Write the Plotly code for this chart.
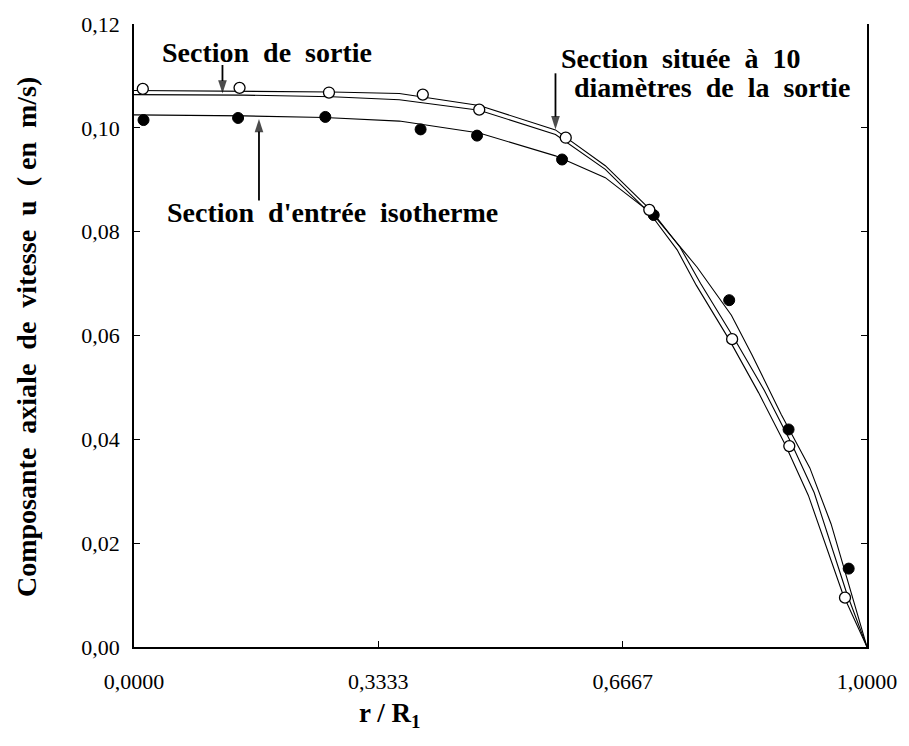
import plotly.graph_objects as go

# --- data ---
# measured points
r_entree = [0.013, 0.142, 0.261, 0.391, 0.468, 0.584, 0.709, 0.812, 0.893, 0.975]
u_entree = [0.1015, 0.1019, 0.1021, 0.0997, 0.0985, 0.0939, 0.0832, 0.0668, 0.0419, 0.0151]

r_sortie = [0.012, 0.144, 0.266, 0.394, 0.471, 0.589, 0.703, 0.816, 0.894, 0.970]
u_sortie = [0.1075, 0.1077, 0.1068, 0.1064, 0.1035, 0.0981, 0.0842, 0.0593, 0.0387, 0.0095]

# fitted curves
r_fit_entree = [0.0, 0.15, 0.26, 0.362, 0.471, 0.575, 0.643, 0.709, 0.768, 0.815, 0.843, 0.883, 0.922, 0.951, 1.0]
u_fit_entree = [0.1025, 0.1023, 0.1020, 0.1013, 0.0990, 0.0946, 0.0904, 0.0832, 0.0732, 0.0639, 0.0563, 0.0448, 0.0345, 0.0237, 0.0]

r_fit_sortie = [0.0, 0.15, 0.27, 0.362, 0.471, 0.575, 0.643, 0.706, 0.745, 0.773, 0.818, 0.860, 0.897, 0.928, 0.972, 1.0]
u_fit_sortie = [0.1072, 0.1071, 0.1069, 0.1066, 0.1043, 0.0996, 0.0927, 0.0840, 0.0770, 0.0700, 0.0596, 0.0494, 0.0392, 0.0297, 0.0105, 0.0]

r_fit_10d = [0.0, 0.15, 0.27, 0.362, 0.471, 0.575, 0.643, 0.704, 0.741, 0.767, 0.812, 0.852, 0.889, 0.920, 0.967, 1.0]
u_fit_10d = [0.1064, 0.1063, 0.1060, 0.1054, 0.1034, 0.0987, 0.0920, 0.0835, 0.0765, 0.0697, 0.0592, 0.0490, 0.0388, 0.0292, 0.0102, 0.0]

# label arrows (tail -> tip), in data units
arrow_r = [[0.1207, 0.1207], [0.575, 0.575], [0.1705, 0.1705]]
arrow_u = [[0.1121, 0.1066], [0.1105, 0.0997], [0.0860, 0.1017]]

x_ticks = [0.0, 0.3333, 0.6667, 1.0]
y_ticks = [0.0, 0.02, 0.04, 0.06, 0.08, 0.10, 0.12]

FONT = "Liberation Serif, Times New Roman, serif"

fig = go.Figure()
for xs, ys in [(r_fit_entree, u_fit_entree), (r_fit_sortie, u_fit_sortie), (r_fit_10d, u_fit_10d)]:
    fig.add_trace(go.Scatter(x=xs, y=ys, mode="lines",
                             line=dict(color="black", width=1.1),
                             showlegend=False, hoverinfo="skip"))

for xs, ys in zip(arrow_r, arrow_u):
    fig.add_trace(go.Scatter(x=xs, y=ys, mode="lines+markers",
                             line=dict(color="black", width=1.8),
                             marker=dict(symbol=["circle", "arrow"], size=[0, 14],
                                         angleref="previous", color="black",
                                         line=dict(width=0)),
                             showlegend=False, hoverinfo="skip", cliponaxis=False))

fig.add_trace(go.Scatter(x=r_entree, y=u_entree, mode="markers",
                         marker=dict(symbol="circle", size=11, color="black",
                                     line=dict(color="black", width=1)),
                         showlegend=False, cliponaxis=False))
fig.add_trace(go.Scatter(x=r_sortie, y=u_sortie, mode="markers",
                         marker=dict(symbol="circle", size=11, color="white",
                                     line=dict(color="black", width=1.3)),
                         showlegend=False, cliponaxis=False))

ann_font = dict(family=FONT, size=28, color="black")
annotations = [
    dict(x=0.035, y=0.1146, xref="x", yref="y", text="<b>Section  de  sortie</b>",
         showarrow=False, xanchor="left", yanchor="middle", font=ann_font),
    dict(x=0.5796, y=0.1134, xref="x", yref="y", text="<b>Section  située  à  10</b>",
         showarrow=False, xanchor="left", yanchor="middle", font=ann_font),
    dict(x=0.597, y=0.1077, xref="x", yref="y", text="<b>diamètres  de  la  sortie</b>",
         showarrow=False, xanchor="left", yanchor="middle", font=ann_font),
    dict(x=0.042, y=0.0837, xref="x", yref="y", text="<b>Section  d'entrée  isotherme</b>",
         showarrow=False, xanchor="left", yanchor="middle", font=ann_font),
    # axis titles
    dict(x=0.348, y=-0.109, xref="x", yref="paper", text="<b>r / R<sub>1</sub></b>",
         showarrow=False, xanchor="center", yanchor="middle",
         font=dict(family=FONT, size=27, color="black")),
    dict(x=-0.147, y=0.498, xref="paper", yref="paper",
         text="<b>Composante  axiale  de  vitesse  u  ( en  m/s)</b>",
         showarrow=False, textangle=-90, xanchor="center", yanchor="middle",
         font=dict(family=FONT, size=28, color="black")),
]

fig.update_layout(
    width=909, height=746,
    margin=dict(l=134, r=40, t=21, b=99),
    paper_bgcolor="white", plot_bgcolor="white",
    separators=",.",
    font=dict(family=FONT, size=22, color="black"),
    annotations=annotations,
    showlegend=False,
)
fig.update_xaxes(range=[0, 1], tickvals=x_ticks, tickformat=".4f",
                 showline=True, linecolor="black", linewidth=1.5,
                 ticks="inside", ticklen=6, tickcolor="black",
                 showgrid=False, zeroline=False, mirror=False,
                 tickfont=dict(family=FONT, size=22), ticklabelstandoff=14)
fig.update_yaxes(range=[0, 0.12], tickvals=y_ticks, tickformat=".2f",
                 showline=True, linecolor="black", linewidth=1.5,
                 ticks="inside", ticklen=6, tickcolor="black",
                 showgrid=False, zeroline=False, mirror="ticks",
                 tickfont=dict(family=FONT, size=22), ticklabelstandoff=8)

fig.write_html("out.html")
